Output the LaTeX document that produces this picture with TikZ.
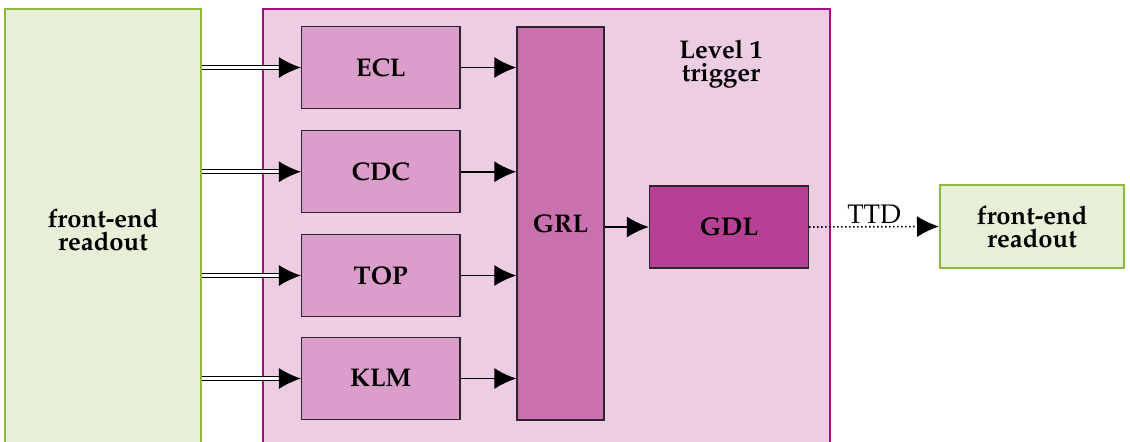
\documentclass[tikz,border=0pt]{standalone}
\usepackage[T1]{fontenc}
\usepackage{mathpazo}
\usetikzlibrary{arrows.meta}

\definecolor{fefill}{RGB}{230,239,216}
\definecolor{feborder}{RGB}{142,184,62}
\definecolor{lonefill}{RGB}{237,205,228}
\definecolor{loneborder}{RGB}{164,18,126}
\definecolor{subfill}{RGB}{219,158,202}
\definecolor{subborder}{RGB}{45,35,42}
\definecolor{grlfill}{RGB}{201,112,175}
\definecolor{gdlfill}{RGB}{181,64,148}

\tikzset{
  lbl/.style={font=\fontsize{12.8}{11.6}\selectfont\bfseries, align=center},
  febox/.style={lbl, draw=feborder, fill=fefill, line width=1pt, inner sep=0pt},
  triggerbox/.style={draw=loneborder, fill=lonefill, line width=1pt, inner sep=0pt},
  subbox/.style={lbl, draw=subborder, fill=subfill, line width=0.6pt,
    minimum width=79.25pt, minimum height=41pt, inner sep=0pt},
  tip/.style={-{Latex[length=11pt,width=10.5pt]}},
  arr/.style={line width=0.9pt, tip},
  dblarr/.style={line width=0.65pt, double=white, double distance=1.3pt, tip},
  dotarr/.style={line width=0.8pt, dash pattern=on 0.8pt off 1.2pt, tip},
}

\begin{document}
\begin{tikzpicture}[x=0.5pt, y=-0.5pt]
  \clip (0,0) rectangle (1130,441);
  \fill[white] (0,0) rectangle (1130,441);

  % front-end readout (source) and the trigger enclosure
  \node[febox, minimum width=98pt, minimum height=221pt] (fe) at (103,230)
    {front-end\\readout};
  \node[triggerbox, minimum width=283.5pt, minimum height=221pt] (lone) at (546.5,230) {};
  \node[lbl] (title) at (721,64) {Level 1\\trigger};

  % sub-detector trigger boxes
  \node[subbox] (ecl) at (380.75,67.5) {ECL};
  \node[subbox] (cdc) at (380.75,171.75) {CDC};
  \node[subbox] (top) at (380.75,275.5) {TOP};
  \node[subbox] (klm) at (380.75,378.5) {KLM};

  % global reconstruction and decision logic
  \node[lbl, draw=subborder, fill=grlfill, line width=0.6pt, inner sep=0pt,
        minimum width=43.5pt, minimum height=196.5pt] (grl) at (560.5,223.5) {GRL};
  \node[lbl, draw=subborder, fill=gdlfill, line width=0.6pt, inner sep=0pt,
        minimum width=79.5pt, minimum height=41pt] (gdl) at (729,227) {GDL};

  % front-end readout (destination)
  \node[febox, minimum width=92pt, minimum height=41.5pt] (fe2) at (1032,226.5)
    {front-end\\readout};

  % data links
  \foreach \b in {ecl,cdc,top,klm}{
    \draw[dblarr] (fe.east |- \b.west) -- (\b.west);
    \draw[arr] (\b.east) -- (\b.east -| grl.west);
  }
  \draw[arr] (grl.east |- gdl.west) -- (gdl.west);
  \draw[dotarr] (gdl.east) -- node[above, font=\fontsize{13.4}{13}\selectfont, inner sep=1.2pt] (ttd) {TTD} (fe2.west);
\end{tikzpicture}
\end{document}
